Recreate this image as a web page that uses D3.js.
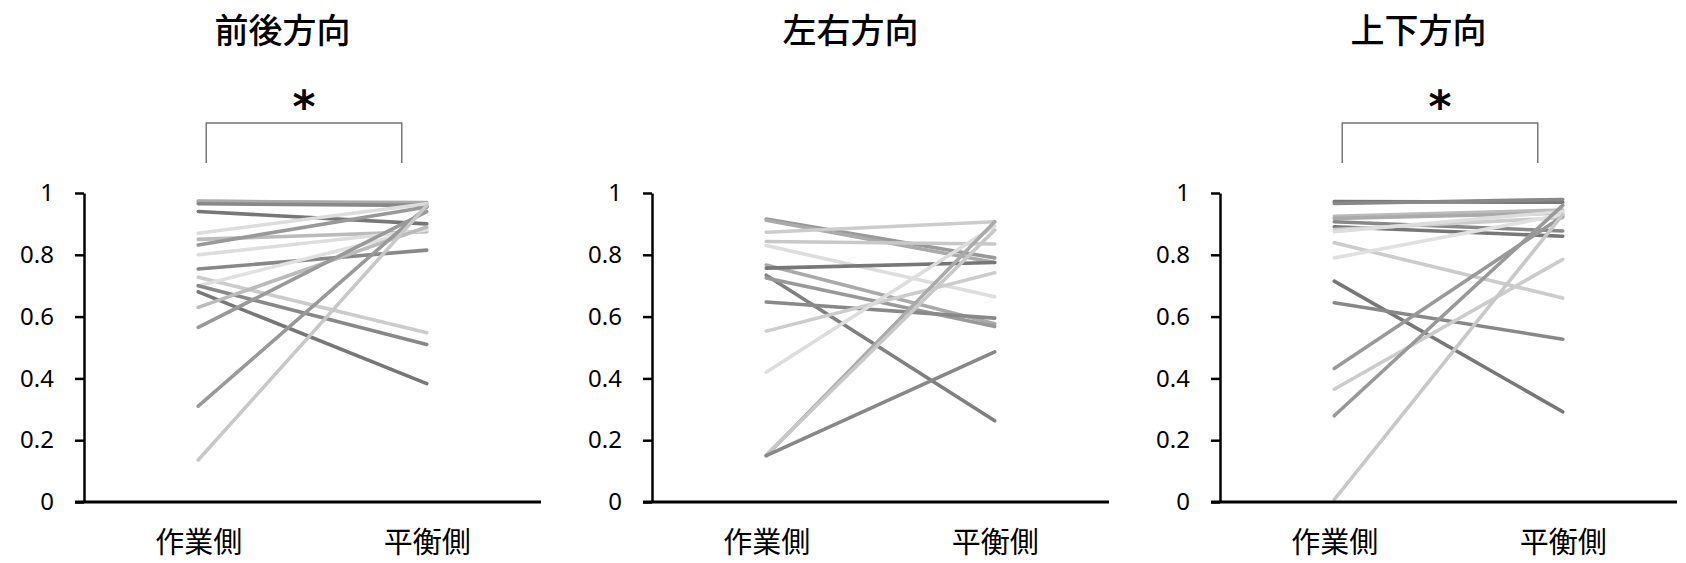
<!DOCTYPE html>
<html>
<head>
<meta charset="utf-8">
<script src="https://cdn.jsdelivr.net/npm/d3@7"></script>
<style>
  body { margin: 0; background: #fff; }
  svg { display: block; }
</style>
</head>
<body>
<div id="chart"></div>
<script>
// Data
const categories = ["作業側", "平衡側"];
const titles = ["前後方向", "左右方向", "上下方向"];
const yTicks = [0, 0.2, 0.4, 0.6, 0.8, 1];
const significant = [true, false, true];

// 前後方向
const apWork = [0.975, 0.972, 0.965, 0.94, 0.87, 0.85, 0.832, 0.80, 0.754, 0.727, 0.70, 0.70, 0.68, 0.63, 0.565, 0.31, 0.136];
const apBal  = [0.965, 0.969, 0.96, 0.90, 0.965, 0.875, 0.955, 0.88, 0.815, 0.548, 0.885, 0.51, 0.383, 0.89, 0.94, 0.955, 0.96];
// 左右方向
const mlWork = [0.916, 0.912, 0.873, 0.843, 0.83, 0.767, 0.757, 0.734, 0.725, 0.647, 0.553, 0.42, 0.15, 0.152, 0.15];
const mlBal  = [0.79, 0.775, 0.907, 0.835, 0.664, 0.577, 0.775, 0.263, 0.568, 0.595, 0.742, 0.893, 0.907, 0.88, 0.486];
// 上下方向
const siWork = [0.972, 0.966, 0.925, 0.918, 0.907, 0.891, 0.882, 0.875, 0.839, 0.79, 0.715, 0.645, 0.432, 0.365, 0.279, 0.008];
const siBal  = [0.97, 0.979, 0.945, 0.935, 0.877, 0.86, 0.92, 0.94, 0.66, 0.93, 0.292, 0.527, 0.925, 0.785, 0.96, 0.93];

// line greys for each subject
const apGrays = ["#c0c0c0", "#aaa", "#888", "#777", "#ddd", "#bbb", "#999", "#ddd", "#888", "#ccc", "#e0e0e0", "#888", "#777", "#bbb", "#999", "#999", "#c8c8c8"];
const mlGrays = ["#999", "#aaa", "#ccc", "#c8c8c8", "#ddd", "#aaa", "#777", "#808080", "#999", "#888", "#ccc", "#ddd", "#aaa", "#c8c8c8", "#888"];
const siGrays = ["#777", "#888", "#bbb", "#aaa", "#888", "#777", "#ccc", "#ddd", "#ccc", "#e0e0e0", "#777", "#888", "#999", "#ccc", "#999", "#c8c8c8"];

const width = 1686;
const height = 563;

const panels = [
  { work: apWork, bal: apBal, grays: apGrays, x0: 84 },
  { work: mlWork, bal: mlBal, grays: mlGrays, x0: 652 },
  { work: siWork, bal: siBal, grays: siGrays, x0: 1220 }
];
const plotW = 457;
const plotTop = 193;
const plotBottom = 502;

const svg = d3.select("#chart").append("svg")
  .attr("width", width)
  .attr("height", height)
  .style("background", "#fff");

const y = d3.scaleLinear().domain([0, 1]).range([plotBottom, plotTop]);

panels.forEach((p, i) => {
  const x = d3.scalePoint().domain(categories).range([p.x0, p.x0 + plotW]).padding(0.5);
  const g = svg.append("g");

  // subject lines
  const rows = p.work.map((w, k) => ({ w: w, b: p.bal[k], c: p.grays[k] }));
  g.selectAll("line.subj")
    .data(rows)
    .join("line")
    .attr("class", "subj")
    .attr("x1", x(categories[0]))
    .attr("x2", x(categories[1]))
    .attr("y1", d => y(d.w))
    .attr("y2", d => y(d.b))
    .attr("stroke", d => d.c)
    .attr("stroke-width", 3.6)
    .attr("stroke-linecap", "round");

  // y axis
  const ya = g.append("g")
    .attr("transform", `translate(${p.x0},0)`)
    .call(d3.axisLeft(y).tickValues(yTicks).tickSize(9).tickSizeOuter(0).tickPadding(21).tickFormat(d3.format("~g")));
  ya.select(".domain").attr("stroke", "#000").attr("stroke-width", 2.5);
  ya.selectAll(".tick line").attr("stroke", "#000").attr("stroke-width", 2.5);
  ya.selectAll(".tick text")
    .attr("fill", "#000")
    .style("font-family", "'Noto Sans', sans-serif")
    .style("font-size", "24px");

  // x axis
  const xa = g.append("g")
    .attr("transform", `translate(0,${plotBottom})`)
    .call(d3.axisBottom(x).tickSize(0).tickSizeOuter(0).tickPadding(30));
  xa.select(".domain").attr("stroke", "#000").attr("stroke-width", 3)
    .attr("d", `M${p.x0 - 9},0H${p.x0 + plotW}`);
  xa.selectAll(".tick text")
    .attr("fill", "#000")
    .style("font-family", "'Noto Sans CJK JP', sans-serif")
    .style("font-size", "29px");

  // panel title
  svg.append("text")
    .attr("x", p.x0 + plotW / 2 - 30)
    .attr("y", 28)
    .attr("text-anchor", "middle")
    .attr("dominant-baseline", "central")
    .style("font-family", "'Noto Sans CJK JP', sans-serif")
    .style("font-size", "34px")
    .style("font-weight", "500")
    .attr("fill", "#000")
    .text(titles[i]);

  // significance bracket
  if (significant[i]) {
    const bx1 = x(categories[0]) + 8;
    const bx2 = x(categories[1]) - 25;
    g.append("path")
      .attr("d", `M${bx1},163V123H${bx2}V163`)
      .attr("fill", "none")
      .attr("stroke", "#777")
      .attr("stroke-width", 1.5);
    g.append("text")
      .attr("x", (bx1 + bx2) / 2)
      .attr("y", 122)
      .attr("text-anchor", "middle")
      .style("font-family", "'DejaVu Sans', sans-serif")
      .style("font-weight", "bold")
      .style("font-size", "44px")
      .attr("fill", "#000")
      .text("*");
  }
});
</script>
</body>
</html>
